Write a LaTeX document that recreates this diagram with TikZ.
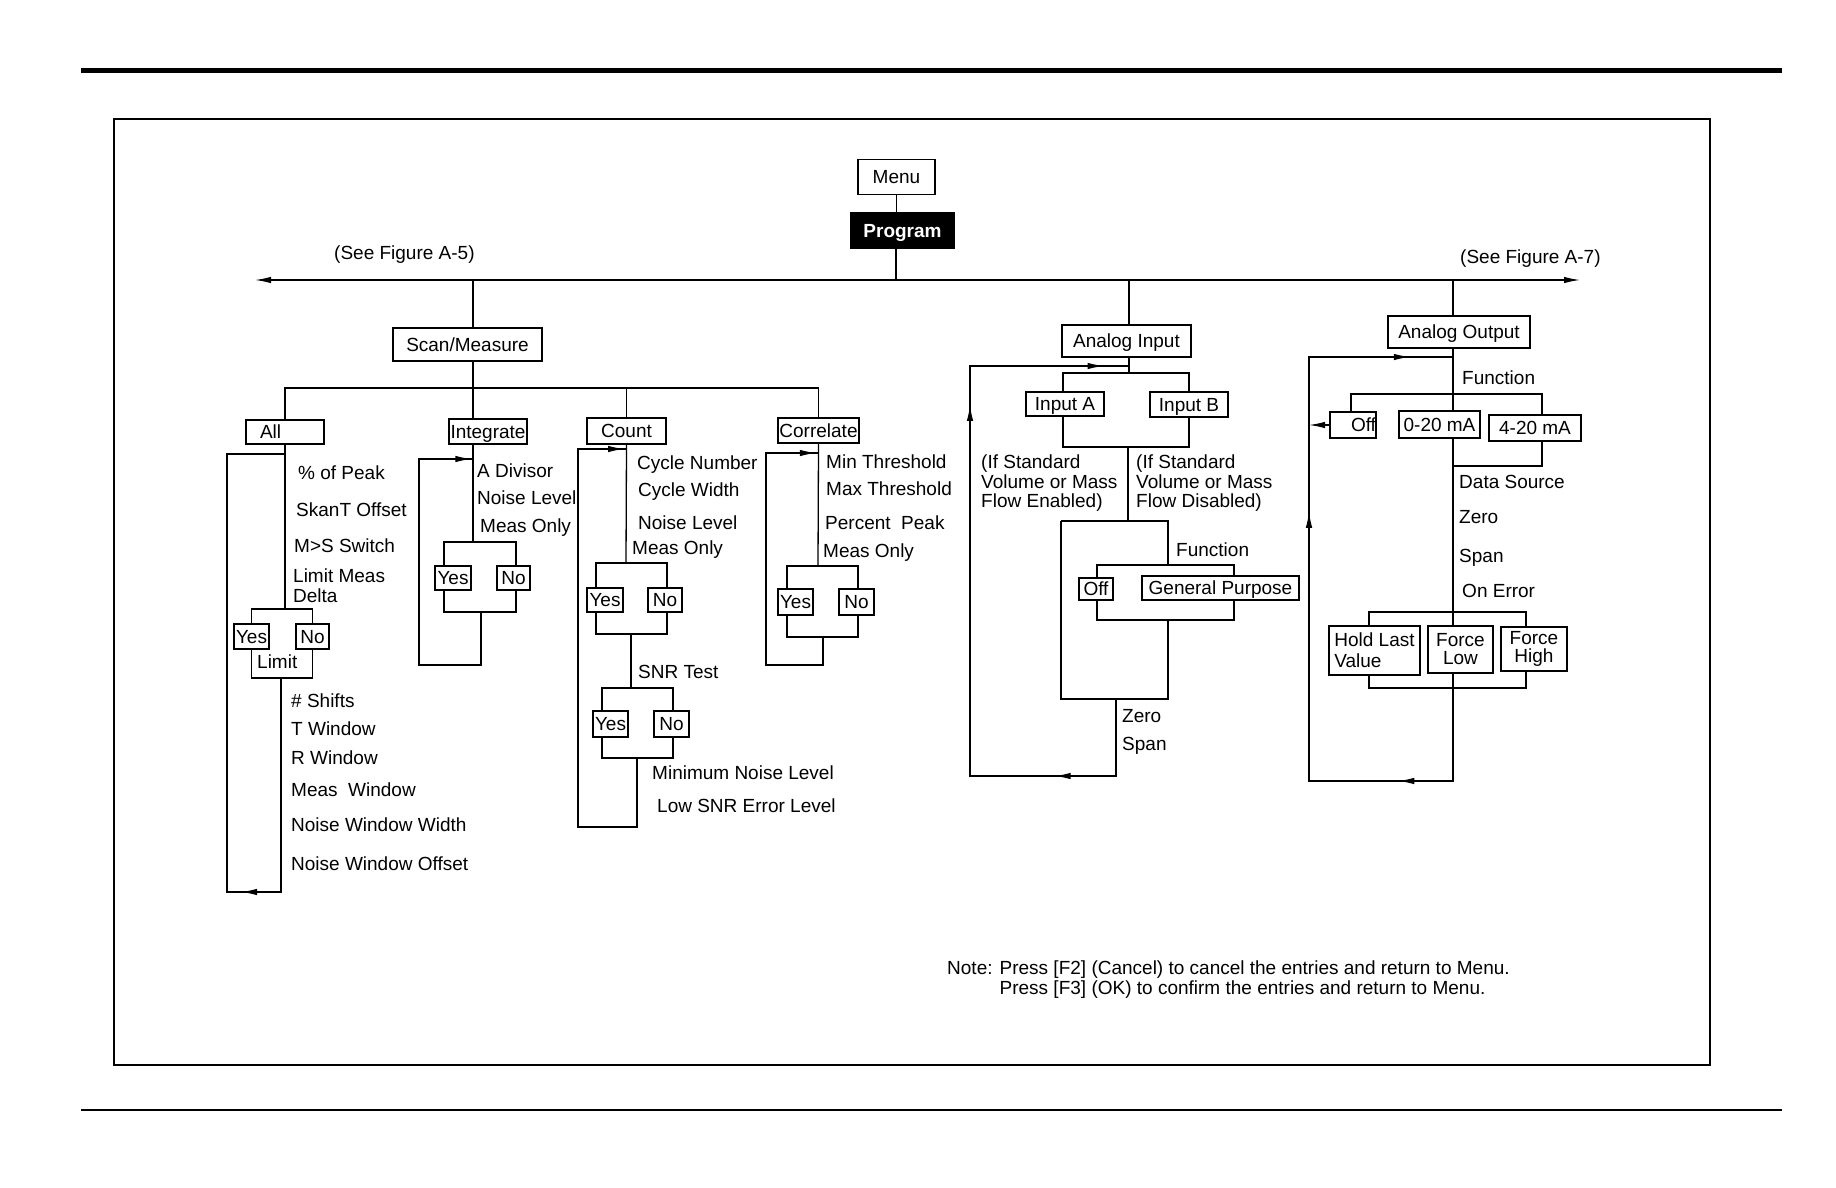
\documentclass[tikz,border=0pt]{standalone}
\usepackage{fontspec}
\setmainfont{Liberation Sans}
\usetikzlibrary{arrows.meta, calc}
\tikzset{
  menubox/.style  ={draw, fill=white, line width=1.3pt, inner sep=0pt,
                    text height=13.6pt, text depth=0pt},
  keybox/.style   ={menubox, fill=black, text=white, font=\fontsize{19}{21}\selectfont\bfseries},
  pairbox/.style  ={draw, fill=white, line width=1.3pt, inner sep=0pt, align=center,
                    font=\fontsize{19}{18}\selectfont},
  menuitem/.style ={anchor=west, inner sep=0pt, text height=13.6pt, text depth=0pt},
  remark/.style   ={anchor=north west, inner sep=0pt, align=left,
                    font=\fontsize{19}{19.5}\selectfont},
  link/.style     ={line width=1.3pt},
  flow/.style     ={link, -{Latex[length=16pt, width=6.5pt]}}
}

\begin{document}
\begin{tikzpicture}[x=1pt, y=-1pt, font=\fontsize{19}{21}\selectfont]
  \useasboundingbox (0,0) rectangle (1836,1188);

  % ====================== Page rules and frame ======================
  \draw[line width=5pt] (81,70.5) -- (1782,70.5);
  \draw[line width=1.4pt] (81,1110) -- (1782,1110);
  \draw[line width=2pt] (114,119) rectangle (1710,1065);

  % ====================== Menu / Program ======================
  \node[menubox, minimum width=77pt, minimum height=35pt] (menu) at (896.5,177) {Menu};
  \node[keybox, minimum width=103pt, minimum height=35pt] (program) at (902.5,230.5) {Program};
  \coordinate (hub)      at (896,280);
  \coordinate (toA5)     at (255,280);
  \coordinate (toA7)     at (1580,280);
  \coordinate (tapScan)  at (473,280);
  \coordinate (tapIn)    at (1129,280);
  \coordinate (tapOut)   at (1453,280);

  \draw[link] (menu.south) -- (menu.south |- program.north);
  \draw[link] (program.south -| hub) -- (hub);
  \draw[flow] (hub) -- (toA5);
  \draw[flow] (hub) -- (toA7);

  \node[menuitem] (seeA5) at (334,253) {(See Figure A-5)};
  \node[menuitem] (seeA7) at (1460,257) {(See Figure A-7)};

  % ====================== Scan/Measure ======================
  \node[menubox, minimum width=149pt, minimum height=33pt] (scan) at (467.5,344.5) {Scan/Measure};
  \coordinate (sbus) at (473,388);
  \draw[link] (tapScan) -- (tapScan |- scan.north);
  \draw[link] (scan.south -| sbus) -- (sbus);

  \node[menubox, minimum width=78pt, minimum height=24pt, text width=50pt, align=left]
        (all) at (285,432) {All};
  \node[menubox, minimum width=78pt, minimum height=25pt] (integ) at (488,431.5) {Integrate};
  \node[menubox, minimum width=79pt, minimum height=26pt] (count) at (626.5,431) {Count};
  \node[menubox, minimum width=81pt, minimum height=25pt] (corr)  at (818.5,430.5) {Correlate};

  \draw[link] (all.north) -- (all.north |- sbus) -- (corr.north |- sbus) -- (corr.north);
  \draw[link] (sbus) -- (sbus |- integ.north);
  \draw[link] (count.north) -- (count.north |- sbus);

  % ---- All ----
  \node[menuitem] (peak)   at (298,473) {\% of Peak};
  \node[menuitem] (skant)  at (296,510) {SkanT Offset};
  \node[menuitem] (mss)    at (294,546) {M>S Switch};
  \node[remark]   (lmd)    at (293,569) {Limit Meas\\Delta};

  \coordinate (allsplit) at (285,609);
  \node[menubox, minimum width=35pt, minimum height=25pt] (yes1) at (251.5,636.5) {Yes};
  \node[menubox, minimum width=33pt, minimum height=25pt] (no1)  at (312.5,636.5) {No};
  \node[menuitem] (limit) at (257,662) {Limit};
  \coordinate (alljoin) at (281,678);
  \coordinate (allend)  at (281,892);
  \coordinate (allLB)   at (227,892);
  \coordinate (allLT)   at (227,454);

  \draw[link] (all.south) -- (allsplit);
  \draw[link] (yes1.north) -- (yes1.north |- allsplit) -- (no1.north |- allsplit) -- (no1.north);
  \draw[link] (yes1.south) -- (yes1.south |- alljoin) -- (no1.south |- alljoin) -- (no1.south);
  \draw[link] (alljoin) -- (allend) -- (allLB) -- (allLT) -- (allLT -| all.south);
  \draw[flow] (allend) -- ($(allend)!0.74!(allLB)$);

  \node[menuitem] (shifts) at (291,701) {\# Shifts};
  \node[menuitem] (twin)   at (291,729) {T Window};
  \node[menuitem] (rwin)   at (291,758) {R Window};
  \node[menuitem] (mwin)   at (291,790) {Meas\ \ Window};
  \node[menuitem] (nww)    at (291,825) {Noise Window Width};
  \node[menuitem] (nwo)    at (291,864) {Noise Window Offset};

  % ---- Integrate ----
  \node[menuitem] (adiv)  at (477,471) {A Divisor};
  \node[menuitem] (inl)   at (477,498) {Noise Level};
  \node[menuitem] (imo)   at (480,526) {Meas Only};

  \coordinate (intsplit) at (473,542);
  \coordinate (intL)     at (444,542);
  \coordinate (intR)     at (516,542);
  \node[menubox, minimum width=36pt, minimum height=24pt] (yes2) at (453,578) {Yes};
  \node[menubox, minimum width=33pt, minimum height=24pt] (no2)  at (513.5,578) {No};
  \coordinate (intjoin) at (481,612);
  \coordinate (intLB)   at (419,665);
  \coordinate (intLT)   at (419,459);
  \coordinate (intRT)   at (473,459);

  \draw[link] (integ.south -| intsplit) -- (intsplit);
  \draw[link] (intL |- yes2.north) -- (intL) -- (intR) -- (intR |- no2.north);
  \draw[link] (intL |- yes2.south) -- (intL |- intjoin) -- (intR |- intjoin) -- (intR |- no2.south);
  \draw[link] (intjoin) -- (intjoin |- intLB) -- (intLB) -- (intLT) -- (intRT);
  \draw[flow] (intLT) -- ($(intLT)!0.97!(intRT)$);

  % ---- Count ----
  \node[menuitem] (cnum)  at (637,463) {Cycle Number};
  \node[menuitem] (cwid)  at (638,490) {Cycle Width};
  \node[menuitem] (cnl)   at (638,523) {Noise Level};
  \node[menuitem] (cmo)   at (632,548) {Meas Only};

  \coordinate (cntsplit) at (626,563);
  \coordinate (cntL)     at (596,563);
  \coordinate (cntR)     at (667,563);
  \node[menubox, minimum width=36pt, minimum height=24pt] (yes3) at (605,600) {Yes};
  \node[menubox, minimum width=34pt, minimum height=24pt] (no3)  at (665,600) {No};
  \coordinate (cntjoin) at (631,634);

  \node[menuitem] (snr) at (638,672) {SNR Test};
  \coordinate (snrsplit) at (631,688);
  \coordinate (snrL)     at (602,688);
  \coordinate (snrR)     at (673,688);
  \node[menubox, minimum width=35pt, minimum height=26pt] (yes4) at (610.5,724) {Yes};
  \node[menubox, minimum width=35pt, minimum height=26pt] (no4)  at (671.5,724) {No};
  \coordinate (snrjoin) at (637,758);
  \coordinate (cntend)  at (637,827);
  \coordinate (cntLB)   at (578,827);
  \coordinate (cntLT)   at (578,449);
  \coordinate (cntRT)   at (626,449);

  \draw[link] (count.south) -- (cntsplit);
  \draw[link] (cntL |- yes3.north) -- (cntL) -- (cntR) -- (cntR |- no3.north);
  \draw[link] (cntL |- yes3.south) -- (cntL |- cntjoin) -- (cntR |- cntjoin) -- (cntR |- no3.south);
  \draw[link] (cntjoin) -- (snrsplit);
  \draw[link] (snrL |- yes4.north) -- (snrL) -- (snrR) -- (snrR |- no4.north);
  \draw[link] (snrL |- yes4.south) -- (snrL |- snrjoin) -- (snrR |- snrjoin) -- (snrR |- no4.south);
  \draw[link] (snrjoin) -- (cntend) -- (cntLB) -- (cntLT) -- (cntRT);
  \draw[flow] (cntLT) -- ($(cntLT)!0.96!(cntRT)$);

  \node[menuitem] (mnl)  at (652,773) {Minimum Noise Level};
  \node[menuitem] (lsnr) at (657,806) {Low SNR Error Level};

  % ---- Correlate ----
  \node[menuitem] (minth) at (826,462) {Min Threshold};
  \node[menuitem] (maxth) at (826,489) {Max Threshold};
  \node[menuitem] (ppk)   at (825,523) {Percent\ \ Peak};
  \node[menuitem] (comq)  at (823,551) {Meas Only};

  \coordinate (corsplit) at (818,566);
  \coordinate (corL)     at (787,566);
  \coordinate (corR)     at (858,566);
  \node[menubox, minimum width=35pt, minimum height=26pt] (yes5) at (795.5,602) {Yes};
  \node[menubox, minimum width=35pt, minimum height=26pt] (no5)  at (856.5,602) {No};
  \coordinate (corjoin) at (823,637);
  \coordinate (corLB)   at (766,665);
  \coordinate (corLT)   at (766,453);
  \coordinate (corRT)   at (818,453);

  \draw[link] (corr.south) -- (corsplit);
  \draw[link] (corL |- yes5.north) -- (corL) -- (corR) -- (corR |- no5.north);
  \draw[link] (corL |- yes5.south) -- (corL |- corjoin) -- (corR |- corjoin) -- (corR |- no5.south);
  \draw[link] (corjoin) -- (corjoin |- corLB) -- (corLB) -- (corLT) -- (corRT);
  \draw[flow] (corLT) -- ($(corLT)!0.96!(corRT)$);

  % ====================== Analog Input ======================
  \node[menubox, minimum width=129pt, minimum height=32pt] (ain) at (1126.5,341) {Analog Input};
  \draw[link] (tapIn) -- (tapIn |- ain.north);

  \coordinate (insplit) at (1129,373);
  \coordinate (inL)     at (1063,373);
  \coordinate (inR)     at (1189,373);
  \node[menubox, minimum width=78pt, minimum height=24pt] (inA) at (1065,404) {Input A};
  \node[menubox, minimum width=78pt, minimum height=25pt] (inB) at (1189,404.5) {Input B};
  \coordinate (injoin)  at (1128,447);

  \draw[link] (ain.south -| insplit) -- (insplit);
  \draw[link] (inL |- inA.north) -- (inL) -- (inR) -- (inR |- inB.north);
  \draw[link] (inL |- inA.south) -- (inL |- injoin) -- (inR |- injoin) -- (inR |- inB.south);

  \node[remark] (enab) at (981,455)  {(If Standard\\Volume or Mass\\Flow Enabled)};
  \node[remark] (disa) at (1136,455) {(If Standard\\Volume or Mass\\Flow Disabled)};

  \coordinate (fnsplit) at (1128,521);
  \coordinate (fnL)     at (1061,521);
  \coordinate (fnR)     at (1168,521);
  \coordinate (gpsplit) at (1168,565);
  \coordinate (gpL)     at (1097,565);
  \coordinate (gpR)     at (1234,565);
  \node[menuitem] (infn) at (1176,550) {Function};
  \node[menubox, minimum width=34pt, minimum height=22pt] (off1) at (1096,589) {Off};
  \node[menubox, minimum width=157pt, minimum height=24pt] (gp) at (1220.5,588) {General Purpose};
  \coordinate (gpjoin)  at (1168,620);
  \coordinate (zsjoin)  at (1116,699);
  \coordinate (inend)   at (1116,776);
  \coordinate (inLB)    at (970,776);
  \coordinate (inLT)    at (970,366);
  \coordinate (inRT)    at (1129,366);

  \draw[link] (injoin) -- (fnsplit);
  \draw[link] (fnL) -- (fnR) -- (gpsplit);
  \draw[link] (gpL |- off1.north) -- (gpL) -- (gpR) -- (gpR |- gp.north);
  \draw[link] (gpL |- off1.south) -- (gpL |- gpjoin) -- (gpR |- gpjoin) -- (gpR |- gp.south);
  \draw[link] (fnL) -- (fnL |- zsjoin) -- (gpjoin |- zsjoin) -- (gpjoin);
  \draw[link] (zsjoin) -- (inend) -- (inLB) -- (inLT) -- (inRT);
  \draw[flow] (inend) -- ($(inend)!0.42!(inLB)$);
  \draw[flow] (inLB)  -- ($(inLB)!0.905!(inLT)$);
  \draw[flow] (inLT)  -- ($(inLT)!0.84!(inRT)$);

  \node[menuitem] (inzero) at (1122,716) {Zero};
  \node[menuitem] (inspan) at (1122,744) {Span};

  % ====================== Analog Output ======================
  \node[menubox, minimum width=142pt, minimum height=32pt] (aout) at (1459,332) {Analog Output};
  \draw[link] (tapOut) -- (tapOut |- aout.north);

  \node[menuitem] (outfn) at (1462,378) {Function};
  \coordinate (masplit) at (1453,394);
  \coordinate (maL)     at (1351,394);
  \coordinate (maR)     at (1542,394);
  \node[menubox, minimum width=46pt, minimum height=26pt, text width=46pt, align=right]
        (off2) at (1353,425) {Off};
  \node[menubox, minimum width=81pt, minimum height=27pt] (ma020) at (1439.5,424.5) {0-20 mA};
  \node[menubox, minimum width=92pt, minimum height=26pt] (ma420) at (1535,428) {4-20 mA};
  \coordinate (majoin)  at (1542,466);

  \draw[link] (aout.south -| masplit) -- (masplit |- ma020.north);
  \draw[link] (maL |- off2.north) -- (maL) -- (maR) -- (maR |- ma420.north);
  \draw[link] (ma420.south -| majoin) -- (majoin) -- (majoin -| masplit);

  \node[menuitem] (dsrc)    at (1459,482) {Data Source};
  \node[menuitem] (outzero) at (1459,517) {Zero};
  \node[menuitem] (outspan) at (1459,556) {Span};
  \node[menuitem] (onerr)   at (1462,591) {On Error};

  \coordinate (errsplit) at (1453,612);
  \coordinate (errL)     at (1369,612);
  \coordinate (errR)     at (1526,612);
  \node[pairbox, minimum width=91pt, minimum height=49pt, align=left,
        font=\fontsize{19}{21}\selectfont] (hold) at (1374.5,650.5) {Hold Last\\Value};
  \node[pairbox, minimum width=65pt, minimum height=47pt] (flow) at (1460.5,649.5) {Force\\Low};
  \node[pairbox, minimum width=66pt, minimum height=44pt] (fhigh) at (1534,649) {Force\\High};
  \coordinate (errjoin)  at (1453,688);
  \coordinate (outend)   at (1453,781);
  \coordinate (outLB)    at (1309,781);
  \coordinate (outLT)    at (1309,357);
  \coordinate (outRT)    at (1453,357);

  \draw[link] (ma020.south -| masplit) -- (masplit |- flow.north);
  \draw[link] (errL |- hold.north) -- (errL) -- (errR) -- (errR |- fhigh.north);
  \draw[link] (errL |- hold.south) -- (errL |- errjoin) -- (errR |- errjoin) -- (errR |- fhigh.south);
  \draw[link] (flow.south -| errjoin) -- (outend) -- (outLB) -- (outLT) -- (outRT);
  \draw[flow] (outend) -- ($(outend)!0.38!(outLB)$);
  \draw[flow] (outLB)  -- ($(outLB)!0.635!(outLT)$);
  \draw[flow] (outLT)  -- ($(outLT)!0.70!(outRT)$);
  \draw[flow] (off2.west) -- (off2.west -| outLB);

  % ====================== Note ======================
  \node[remark, font=\fontsize{19}{20}\selectfont] (note) at (947,961)
        {Note: Press [F2] (Cancel) to cancel the entries and return to Menu.\\
         \phantom{Note: }Press [F3] (OK) to confirm the entries and return to Menu.};

\end{tikzpicture}
\end{document}
